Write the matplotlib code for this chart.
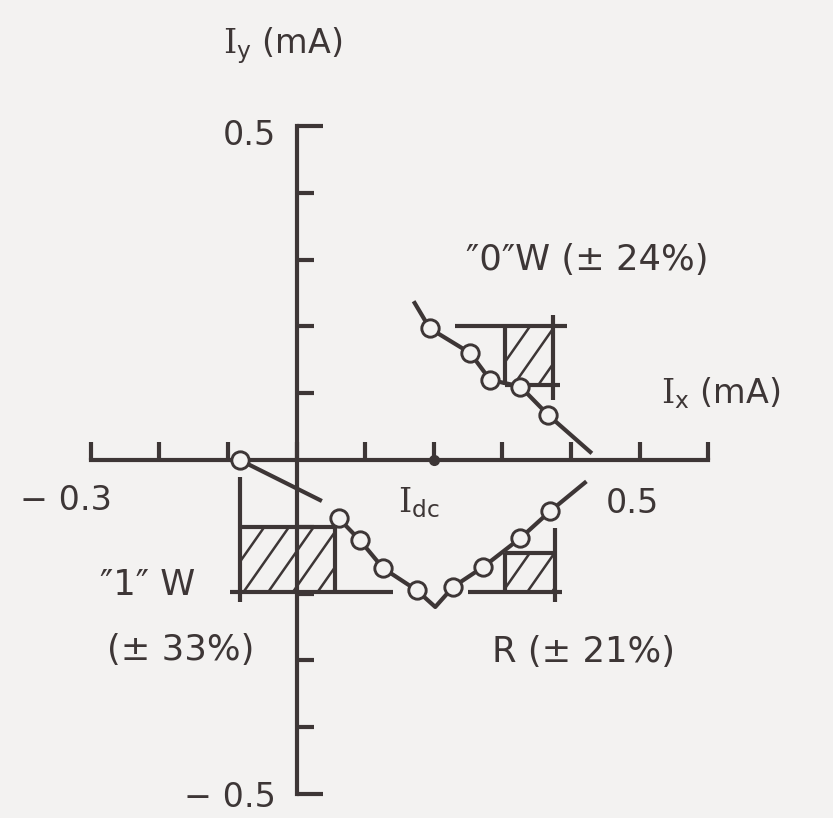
import numpy as np
import matplotlib
matplotlib.use("Agg")
import matplotlib.pyplot as plt
from matplotlib.patches import Rectangle
from matplotlib.collections import LineCollection

INK = "#3d3636"
PAPER = "#f3f2f1"

plt.rcParams["font.family"] = ["DejaVu Sans"]
plt.rcParams["mathtext.fontset"] = "custom"
plt.rcParams["mathtext.rm"] = "DejaVu Serif"
plt.rcParams["mathtext.sf"] = "DejaVu Sans"

# --- data (mA) ---
# write "0" branch: measured points and the line drawn through them
w0_x = [0.194, 0.253, 0.282, 0.326, 0.367]
w0_y = [0.197, 0.160, 0.120, 0.110, 0.067]
w0_line_x = [0.172, 0.194, 0.253, 0.282, 0.326, 0.367, 0.428]
w0_line_y = [0.235, 0.197, 0.160, 0.120, 0.110, 0.067, 0.012]

# write "1" threshold point on the I_x axis and its short branch
w1_x = [-0.083]
w1_y = [0.0]
w1_line_x = [-0.083, 0.034]
w1_line_y = [0.0, -0.060]

# read branch
r_x = [0.061, 0.092, 0.126, 0.175, 0.228, 0.272, 0.326, 0.369]
r_y = [-0.087, -0.120, -0.162, -0.195, -0.190, -0.160, -0.117, -0.077]
r_line_x = [0.061, 0.092, 0.126, 0.175, 0.202, 0.228, 0.272, 0.326, 0.369, 0.420]
r_line_y = [-0.087, -0.120, -0.162, -0.195, -0.220, -0.190, -0.160, -0.117, -0.077, -0.034]

# bias point on the I_x axis
idc_x = 0.2

# margin windows: hatched area (x0, x1, y0, y1) and the threshold lines around it
w1_area = (-0.083, 0.056, -0.197, -0.100)
w1_lines = [((-0.083, -0.083), (-0.025, -0.212)),
            ((-0.083, 0.056), (-0.100, -0.100)),
            ((0.056, 0.056), (-0.100, -0.197)),
            ((-0.097, 0.140), (-0.197, -0.197))]

r_area = (0.304, 0.377, -0.197, -0.139)
r_lines = [((0.304, 0.304), (-0.139, -0.197)),
           ((0.304, 0.377), (-0.139, -0.139)),
           ((0.377, 0.377), (-0.102, -0.213)),
           ((0.250, 0.387), (-0.197, -0.197))]

w0_area = (0.304, 0.374, 0.112, 0.200)
w0_lines = [((0.231, 0.394), (0.200, 0.200)),
            ((0.374, 0.374), (0.217, 0.090)),
            ((0.304, 0.304), (0.200, 0.112)),
            ((0.304, 0.384), (0.112, 0.112))]

x_ticks = [-0.3, -0.2, -0.1, 0.0, 0.1, 0.2, 0.3, 0.4, 0.5, 0.6]
y_minor = [-0.4, -0.3, -0.2, -0.1, 0.1, 0.2, 0.3, 0.4]
y_major = [-0.5, 0.5]

# --- figure ---
fig = plt.figure(figsize=(8.33, 8.18), dpi=100, facecolor=PAPER)
ax = fig.add_axes([0, 0, 1, 1])
ax.set_facecolor(PAPER)
ax.set_xlim(-0.4325, 0.7818)
ax.set_ylim(-0.5359, 0.6886)

lw = 3.0
for side in ("top", "right"):
    ax.spines[side].set_visible(False)
for side in ("left", "bottom"):
    ax.spines[side].set_position(("data", 0))
    ax.spines[side].set_linewidth(lw)
    ax.spines[side].set_color(INK)
    ax.spines[side].set_capstyle("projecting")
ax.spines["bottom"].set_bounds(-0.3, 0.6)
ax.spines["left"].set_bounds(-0.5, 0.5)

ax.set_xticks(x_ticks)
ax.set_yticks(y_major)
ax.set_yticks(y_minor, minor=True)
ax.set_xticklabels([])
ax.set_yticklabels([])
ax.tick_params(axis="x", direction="in", length=13, width=lw, color=INK)
ax.tick_params(axis="y", which="major", direction="in", length=19, width=lw, color=INK)
ax.tick_params(axis="y", which="minor", direction="in", length=12, width=lw, color=INK)

# hatched windows
def hatch_box(area, spacing=0.036, angle=55):
    x0, x1, y0, y1 = area
    rect = Rectangle((x0, y0), x1 - x0, y1 - y0, fill=False, lw=0)
    ax.add_patch(rect)
    run = (y1 - y0) / (np.tan(np.radians(angle)) * 686 / 668)
    starts = np.arange(x0 - run, x1 + spacing, spacing)
    segs = [[(s, y0), (s + run, y1)] for s in starts]
    lc = LineCollection(segs, colors=INK, linewidths=1.8, zorder=2)
    ax.add_collection(lc)
    lc.set_clip_path(rect)

for area, lines in ((w1_area, w1_lines), (r_area, r_lines), (w0_area, w0_lines)):
    hatch_box(area)
    for xs, ys in lines:
        ax.plot(xs, ys, color=INK, lw=lw, solid_capstyle="butt", zorder=3)

# curves
ax.plot(w0_line_x, w0_line_y, color=INK, lw=lw, zorder=4)
ax.plot(w1_line_x, w1_line_y, color=INK, lw=lw, zorder=4)
ax.plot(r_line_x, r_line_y, color=INK, lw=lw, zorder=4)

marker = dict(ls="none", marker="o", ms=12.5, mew=2.1, mfc=PAPER, mec=INK, zorder=5)
ax.plot(w0_x, w0_y, **marker)
ax.plot(w1_x, w1_y, **marker)
ax.plot(r_x, r_y, **marker)

ax.plot([idc_x], [0], ls="none", marker="o", ms=7, color=INK, zorder=5)

# labels
txt = dict(color=INK, fontsize=24)
big = dict(color=INK, fontsize=25.5)
ax.text(-0.107, 0.609, r"$\mathrm{I}_{\mathsf{y}}$ (mA)", ha="left", va="baseline", **txt)
ax.text(0.531, 0.085, r"$\mathrm{I}_{\mathsf{x}}$ (mA)", ha="left", va="baseline", **txt)
ax.text(0.148, -0.078, r"$\mathrm{I}_{\mathsf{dc}}$", ha="left", va="baseline", **txt)

ax.text(-0.030, 0.472, "0.5", ha="right", va="baseline", **txt)
ax.text(-0.030, -0.519, "\u2212 0.5", ha="right", va="baseline", **txt)
ax.text(-0.336, -0.075, "\u2212 0.3", ha="center", va="baseline", **txt)
ax.text(0.490, -0.079, "0.5", ha="center", va="baseline", **txt)

ax.text(0.423, 0.284, "\u20330\u2033W (\u00b1 24%)", ha="center", va="baseline", **big)
ax.text(-0.2175, -0.202, "\u20331\u2033 W", ha="center", va="baseline", **big)
ax.text(-0.169, -0.299, "(\u00b1 33%)", ha="center", va="baseline", **big)
ax.text(0.418, -0.302, "R (\u00b1 21%)", ha="center", va="baseline", **big)

fig.savefig("out.png", dpi=100, facecolor=PAPER)
